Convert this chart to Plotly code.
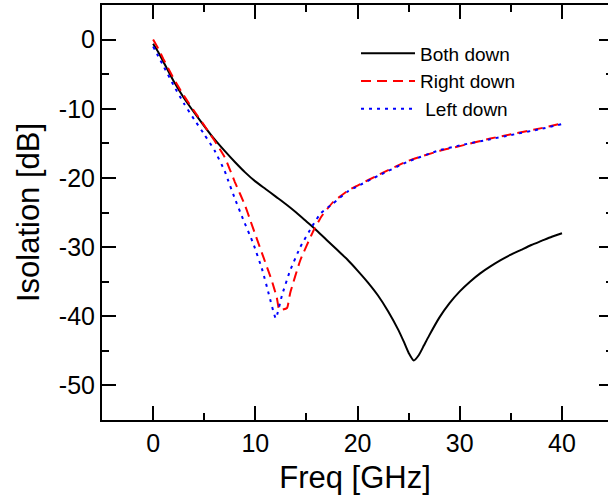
import plotly.graph_objects as go

# Both down (black)
f_both = [0, 0.5, 1, 2, 3, 4, 5, 6, 7, 8, 9, 10, 11, 12, 13, 14, 15, 16, 17, 18, 19, 20,
          21, 22, 23, 24, 24.5, 25, 25.5, 26, 26.5, 27, 28, 29, 30, 31, 32, 33, 34, 35,
          36, 37, 38, 39, 40]
iso_both = [-0.6, -1.8, -3.2, -6.0, -8.4, -10.5, -12.5, -14.4, -16.1, -17.7, -19.2, -20.5,
            -21.6, -22.7, -23.8, -25.0, -26.3, -27.6, -29.0, -30.4, -31.8, -33.4,
            -35.1, -37.0, -39.3, -42.0, -43.6, -45.3, -46.4, -45.6, -44.2, -42.8, -40.2,
            -38.1, -36.4, -35.0, -33.8, -32.8, -31.9, -31.1, -30.4, -29.7, -29.1, -28.5, -28.0]

# Right down (red)
f_right = [0, 0.5, 1, 2, 3, 4, 5, 6, 7, 8, 9, 9.5, 10, 10.8, 11.6, 12.1, 12.35, 13.1, 13.4,
           14.4, 15.7, 16.5, 17.6, 19.1, 20, 22, 25, 28, 30, 33, 35, 38, 40]
iso_right = [0.0, -1.3, -2.8, -5.6, -8.1, -10.3, -12.4, -14.6, -17.0, -20.6, -24.0, -26.1,
             -28.2, -31.5, -34.8, -37.3, -39.1, -38.8, -36.7, -31.9, -27.6, -25.5, -23.5,
             -21.8, -21.1, -19.6, -17.5, -16.1, -15.4, -14.3, -13.7, -12.8, -12.1]

# Left down (blue)
f_left = [0, 0.5, 1, 2, 3, 4, 5, 6, 7, 7.3, 8, 8.7, 9.8, 10.7, 11.3, 12.0, 12.6, 13.4,
          14.4, 15.6, 16.4, 17.6, 19, 20, 22, 25, 28, 30, 33, 35, 38, 40]
iso_left = [-1.0, -2.4, -3.8, -6.6, -9.2, -11.5, -13.7, -16.0, -19.0, -20.2, -23.0, -25.6,
            -29.5, -33.4, -36.7, -40.3, -37.0, -33.4, -30.0, -26.9, -25.1, -23.7, -22.0,
            -21.2, -19.7, -17.6, -16.0, -15.3, -14.4, -13.8, -12.9, -12.2]

names = ["Both down", "Right down", "\u00a0Left down"]

x_ticks = [0, 10, 20, 30, 40]
x_ticktext = ["0", "10", "20", "30", "40"]
y_ticks = [0, -10, -20, -30, -40, -50]
y_ticktext = ["0", "-10", "-20", "-30", "-40", "-50"]

FONT = "Liberation Sans, Arial, sans-serif"

fig = go.Figure()
fig.add_trace(go.Scatter(x=f_both, y=iso_both, mode="lines", name=names[0],
                         line=dict(color="black", width=2, shape="spline", smoothing=0.6)))
fig.add_trace(go.Scatter(x=f_right, y=iso_right, mode="lines", name=names[1],
                         line=dict(color="#ff0000", width=2, dash="10px,6px",
                                   shape="spline", smoothing=0.4)))
fig.add_trace(go.Scatter(x=f_left, y=iso_left, mode="lines", name=names[2],
                         line=dict(color="#0000ff", width=2, dash="3px,5px",
                                   shape="spline", smoothing=0.4)))
# right-side ticks (spine falls just outside the picture)
fig.add_trace(go.Scatter(x=[], y=[], yaxis="y2", showlegend=False, hoverinfo="skip"))

axis_common = dict(
    showgrid=False, zeroline=False, showline=True, linecolor="black", linewidth=2,
    ticks="inside", ticklen=14, tickwidth=2, tickcolor="black",
    tickfont=dict(family=FONT, size=25, color="black"),
)

fig.update_layout(
    width=608, height=497,
    margin=dict(l=102, r=0, t=5, b=77),
    paper_bgcolor="white", plot_bgcolor="white",
    font=dict(family=FONT, color="black"),
    showlegend=True,
    legend=dict(x=0.502, y=0.929, xanchor="left", yanchor="top",
                bgcolor="rgba(0,0,0,0)", font=dict(family=FONT, size=19, color="black"),
                itemwidth=54),
    xaxis=dict(range=[-5, 44.5], tickvals=x_ticks, ticktext=x_ticktext, mirror="ticks",
               minor=dict(ticks="inside", ticklen=7, tickwidth=2, tickcolor="black", dtick=5,
                          tick0=0),
               title=dict(text="Freq [GHz]", font=dict(family=FONT, size=31), standoff=10),
               **axis_common),
    yaxis=dict(range=[-55, 5], tickvals=y_ticks, ticktext=y_ticktext, mirror=False,
               minor=dict(ticks="inside", ticklen=7, tickwidth=2, tickcolor="black", dtick=5,
                          tick0=0),
               title=dict(text="Isolation [dB]", font=dict(family=FONT, size=31), standoff=10),
               **axis_common),
    yaxis2=dict(range=[-55, 5], dtick=10, tick0=0, overlaying="y", side="right",
                anchor="x", showline=False, showgrid=False, zeroline=False,
                ticks="inside", ticklen=9, tickwidth=2, tickcolor="black",
                showticklabels=False,
                minor=dict(ticks="inside", ticklen=2, tickwidth=2, tickcolor="black", dtick=5)),
)

fig.write_html("out.html")
